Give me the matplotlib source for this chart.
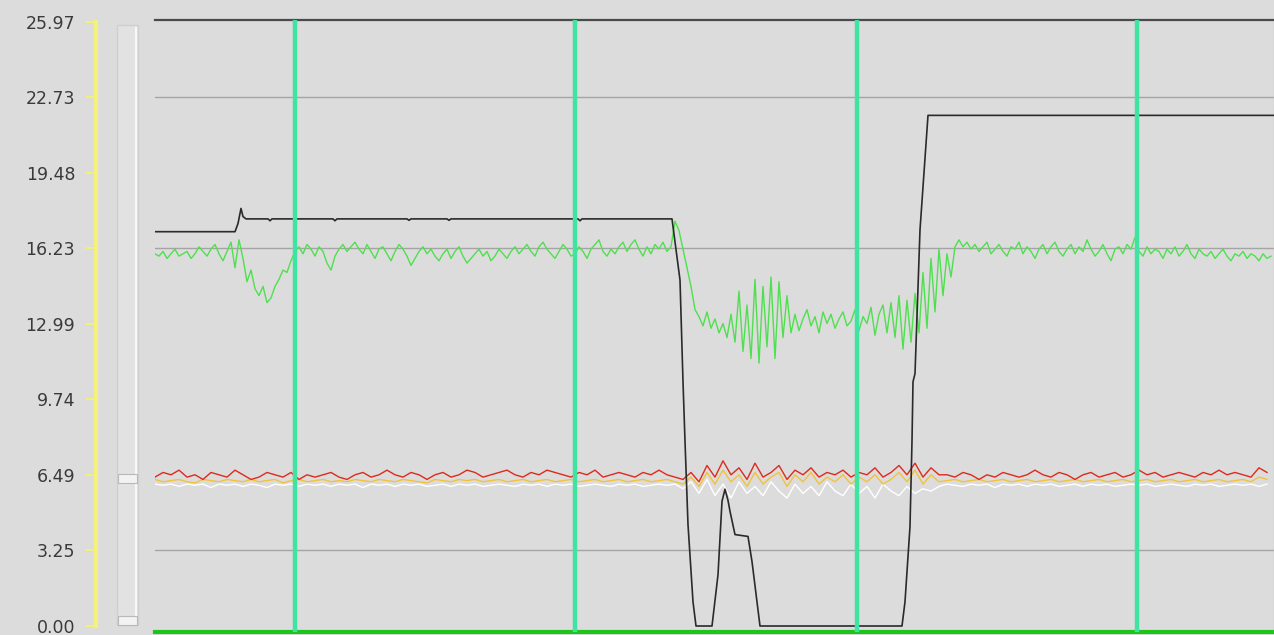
import numpy as np
import matplotlib.pyplot as plt
from matplotlib.patches import Rectangle

# axe vertical (valeurs affichees)
yticks = [0.00, 3.25, 6.49, 9.74, 12.99, 16.23, 19.48, 22.73, 25.97]
ytick_labels = ['0.00', '3.25', '6.49', '9.74', '12.99', '16.23', '19.48', '22.73', '25.97']
hgrid = [3.25, 16.23, 22.73]
markers_t = [140, 420, 702, 982]

# courbe noire (consigne) : points de rupture
black_t = [0, 80, 83, 86, 88, 91, 113, 115, 117, 178, 180, 182, 252, 254, 256,
           292, 294, 296, 423, 425, 427, 517, 525, 528, 530, 533, 538, 541, 557,
           563, 567, 570, 573, 575, 580, 593, 597, 605, 747, 750, 755, 757, 758,
           760, 765, 773, 1120]
black_v = [16.95, 16.95, 17.3, 17.95, 17.6, 17.5, 17.5, 17.42, 17.5, 17.5, 17.42,
           17.5, 17.5, 17.44, 17.5, 17.5, 17.44, 17.5, 17.5, 17.42, 17.5, 17.5,
           14.87, 10.5, 7.95, 4.36, 1.04, 0.0, 0.0, 2.2, 5.36, 5.88, 5.4, 4.93,
           3.93, 3.85, 2.77, 0.0, 0.0, 1.04, 4.28, 7.95, 10.5, 10.85, 17.03,
           21.95, 21.95]

# courbe verte (mesure), un point tous les 4
green_v = [
    16.0, 15.9, 16.1, 15.8, 16.0, 16.2, 15.9, 16.0, 16.1, 15.8,
    16.0, 16.3, 16.1, 15.9, 16.2, 16.4, 16.0, 15.7, 16.1, 16.5,
    15.4, 16.6, 15.8, 14.8, 15.3, 14.5, 14.2, 14.6, 13.9, 14.1,
    14.6, 14.9, 15.3, 15.2, 15.7,
    16.1, 16.3, 16.0, 16.4, 16.2, 15.9, 16.3, 16.1, 15.6, 15.3,
    15.9, 16.2, 16.4, 16.1, 16.3, 16.5, 16.2, 16.0, 16.4, 16.1,
    15.8, 16.2, 16.3, 16.0, 15.7, 16.1, 16.4, 16.2, 15.9, 15.5,
    15.8, 16.1, 16.3, 16.0, 16.2, 15.9, 15.7, 16.0, 16.2, 15.8,
    16.1, 16.3, 15.9, 15.6, 15.8, 16.0, 16.2, 15.9, 16.1, 15.7,
    15.9, 16.2, 16.0, 15.8, 16.1, 16.3, 16.0, 16.2, 16.4, 16.1,
    15.9, 16.3, 16.5, 16.2, 16.0, 15.8, 16.1, 16.4, 16.2, 15.9,
    16.0, 16.3, 16.1, 15.8, 16.2, 16.4, 16.6, 16.1, 15.9, 16.2,
    16.0, 16.3, 16.5, 16.1, 16.4, 16.6, 16.2, 15.9, 16.3, 16.0,
    16.4, 16.2, 16.5, 16.1, 16.3,
    17.4, 17.0, 16.2, 15.4, 14.6, 13.6, 13.3, 12.9, 13.5, 12.8,
    13.2, 12.6, 13.0, 12.4, 13.4, 12.2, 14.4, 11.8, 13.8, 11.5, 14.9,
    11.3, 14.6, 12.0, 15.0, 11.5, 14.8, 12.4, 14.2, 12.6,
    13.4, 12.7, 13.2, 13.6, 12.9, 13.3, 12.6, 13.5, 13.0, 13.4,
    12.8, 13.2, 13.5, 12.9, 13.1, 13.6, 12.7, 13.3, 13.0, 13.7,
    12.5, 13.4, 13.8, 12.6, 13.9, 12.4,
    14.2, 11.9, 14.0, 12.2, 14.3, 12.6, 15.2, 12.8, 15.8, 13.5,
    16.2, 14.2, 16.0, 15.0, 16.3,
    16.6, 16.3, 16.5, 16.2, 16.4, 16.1, 16.3, 16.5, 16.0, 16.2,
    16.4, 16.1, 15.9, 16.3, 16.2, 16.5, 16.0, 16.3, 16.1, 15.8,
    16.2, 16.4, 16.0, 16.3, 16.5, 16.1, 15.9, 16.2, 16.4, 16.0,
    16.3, 16.1, 16.6, 16.2, 15.9, 16.1, 16.4, 16.0, 15.7, 16.2,
    16.3, 16.0, 16.4, 16.2, 16.7, 16.1, 15.9, 16.3, 16.0, 16.2,
    16.1, 15.8, 16.2, 16.0, 16.3, 15.9, 16.1, 16.4, 16.0, 15.8,
    16.2, 16.0, 15.9, 16.1, 15.8, 16.0, 16.2, 15.9, 15.7, 16.0,
    15.9, 16.1, 15.8, 16.0, 15.9, 15.7, 16.0, 15.8, 15.9]

# courbes basses, un point tous les 8
red_v = [
    6.4, 6.6, 6.5, 6.7, 6.4, 6.5, 6.3, 6.6, 6.5, 6.4,
    6.7, 6.5, 6.3, 6.4, 6.6, 6.5, 6.4, 6.6, 6.3, 6.5,
    6.4, 6.5, 6.6, 6.4, 6.3, 6.5, 6.6, 6.4, 6.5, 6.7,
    6.5, 6.4, 6.6, 6.5, 6.3, 6.5, 6.6, 6.4, 6.5, 6.7,
    6.6, 6.4, 6.5, 6.6, 6.7, 6.5, 6.4, 6.6, 6.5, 6.7,
    6.6, 6.5, 6.4, 6.6, 6.5, 6.7, 6.4, 6.5, 6.6, 6.5,
    6.4, 6.6, 6.5, 6.7, 6.5, 6.4,
    6.3, 6.6, 6.2, 6.9, 6.4, 7.1, 6.5, 6.8, 6.3, 7.0,
    6.4, 6.6, 6.9, 6.3, 6.7, 6.5, 6.8, 6.4, 6.6, 6.5,
    6.7, 6.4, 6.6, 6.5, 6.8, 6.4, 6.6, 6.9, 6.5, 7.0,
    6.4, 6.8, 6.5,
    6.5, 6.4, 6.6, 6.5, 6.3, 6.5, 6.4, 6.6, 6.5, 6.4,
    6.5, 6.7, 6.5, 6.4, 6.6, 6.5, 6.3, 6.5, 6.6, 6.4,
    6.5, 6.6, 6.4, 6.5, 6.7, 6.5, 6.6, 6.4, 6.5, 6.6,
    6.5, 6.4, 6.6, 6.5, 6.7, 6.5, 6.6, 6.5, 6.4, 6.8, 6.6]

yellow_v = [
    6.3, 6.2, 6.25, 6.3, 6.2, 6.15, 6.3, 6.25, 6.2, 6.3,
    6.25, 6.2, 6.3, 6.2, 6.25, 6.3, 6.15, 6.25, 6.3, 6.2,
    6.25, 6.3, 6.2, 6.25, 6.2, 6.3, 6.25, 6.2, 6.3, 6.25,
    6.2, 6.3, 6.25, 6.2, 6.15, 6.3, 6.25, 6.2, 6.3, 6.25,
    6.3, 6.2, 6.25, 6.3, 6.2, 6.25, 6.3, 6.2, 6.25, 6.3,
    6.2, 6.25, 6.3, 6.2, 6.25, 6.3, 6.2, 6.25, 6.3, 6.2,
    6.25, 6.3, 6.2, 6.25, 6.3, 6.2,
    6.1, 6.4, 6.0, 6.6, 6.1, 6.7, 6.2, 6.5, 6.0, 6.6,
    6.1, 6.4, 6.6, 6.0, 6.5, 6.2, 6.6, 6.1, 6.4, 6.2,
    6.5, 6.1, 6.4, 6.2, 6.5, 6.1, 6.3, 6.6, 6.2, 6.7,
    6.1, 6.5, 6.2,
    6.25, 6.3, 6.2, 6.25, 6.3, 6.2, 6.25, 6.3, 6.2, 6.25,
    6.3, 6.2, 6.25, 6.3, 6.2, 6.25, 6.3, 6.2, 6.25, 6.3,
    6.2, 6.25, 6.3, 6.2, 6.25, 6.3, 6.2, 6.25, 6.3, 6.2,
    6.25, 6.3, 6.2, 6.25, 6.3, 6.2, 6.25, 6.3, 6.2, 6.4, 6.3]

white_v = [
    6.1, 6.05, 6.1, 6.0, 6.1, 6.05, 6.1, 5.95, 6.1, 6.05,
    6.1, 6.0, 6.1, 6.05, 5.95, 6.1, 6.05, 6.1, 6.0, 6.1,
    6.05, 6.1, 6.0, 6.1, 6.05, 6.1, 5.95, 6.1, 6.05, 6.1,
    6.0, 6.1, 6.05, 6.1, 6.0, 6.05, 6.1, 6.0, 6.1, 6.05,
    6.1, 6.0, 6.05, 6.1, 6.05, 6.0, 6.1, 6.05, 6.1, 6.0,
    6.1, 6.05, 6.1, 6.0, 6.05, 6.1, 6.05, 6.0, 6.1, 6.05,
    6.1, 6.0, 6.05, 6.1, 6.05, 6.1,
    5.9, 6.2, 5.7, 6.3, 5.6, 6.1, 5.5, 6.2, 5.7, 6.0,
    5.6, 6.2, 5.8, 5.5, 6.1, 5.7, 6.0, 5.6, 6.2, 5.8,
    5.6, 6.1, 5.7, 6.0, 5.5, 6.1, 5.8, 5.6, 6.0, 5.7,
    5.9, 5.8, 6.0,
    6.1, 6.05, 6.0, 6.1, 6.05, 6.1, 5.95, 6.1, 6.05, 6.1,
    6.0, 6.1, 6.05, 6.1, 6.0, 6.05, 6.1, 6.0, 6.1, 6.05,
    6.1, 6.0, 6.05, 6.1, 6.05, 6.1, 6.0, 6.05, 6.1, 6.05,
    6.0, 6.1, 6.05, 6.1, 6.0, 6.05, 6.1, 6.05, 6.1, 6.0, 6.1]

green_t = np.arange(len(green_v)) * 4
low_t = np.arange(len(red_v)) * 8

W, H = 1274, 635
bg = '#dcdcdc'
fig = plt.figure(figsize=(W / 100, H / 100), dpi=100, facecolor=bg)

# zone du graphe
ax = fig.add_axes([155 / W, 3 / H, (W - 155) / W, 612 / H], facecolor=bg)
ax.set_xlim(0, 1119)
ax.set_ylim(-0.258, 26.05)

for g in hgrid:
    ax.axhline(g, color='#a4a4a4', lw=1.0, zorder=1)

ax.plot(low_t, white_v, color='#ffffff', lw=1.0, zorder=2)
ax.plot(low_t, yellow_v, color='#f2c23a', lw=1.0, zorder=3)
ax.plot(low_t, red_v, color='#dd2a1c', lw=1.0, zorder=4)
ax.plot(green_t, green_v, color='#4ee04e', lw=1.0, zorder=5)
ax.plot(black_t, black_v, color='#2a2a2a', lw=1.2, zorder=6)

for m in markers_t:
    ax.axvline(m, color='#3fe3a2', lw=3.2, zorder=7)

ax.set_xticks([])
ax.set_yticks(yticks)
ax.set_yticklabels(ytick_labels, fontfamily='Liberation Sans')
ax.tick_params(axis='y', direction='out', length=7, width=1.5, color='#f0f07a',
               labelcolor='#3a3a3a', labelsize=12.5, pad=8)

ax.spines['left'].set_position(('axes', -59 / 1119))
ax.spines['left'].set_color('#f3f37c')
ax.spines['left'].set_linewidth(3)
ax.spines['left'].set_bounds(0, 25.97)
ax.spines['top'].set_color('#4a4a4a')
ax.spines['top'].set_linewidth(1.6)
ax.spines['bottom'].set_color('#1cc41c')
ax.spines['bottom'].set_linewidth(3)
ax.spines['right'].set_color('#c8c8c8')
ax.spines['right'].set_linewidth(1)

# barre de defilement a gauche
fig.patches.append(Rectangle((117 / W, 10 / H), 21 / W, 600 / H, transform=fig.transFigure,
                             facecolor='#e2e2e2', edgecolor='#cfcfcf', lw=1))
fig.patches.append(Rectangle((135 / W, 12 / H), 2 / W, 596 / H, transform=fig.transFigure,
                             facecolor='#f8f8f8', edgecolor='none'))
for y0 in (152, 10):
    fig.patches.append(Rectangle((118 / W, y0 / H), 19 / W, 9 / H, transform=fig.transFigure,
                                 facecolor='#f2f2f2', edgecolor='#b8b8b8', lw=0.8))

plt.savefig('out.png', dpi=100, facecolor=bg)
plt.close()
